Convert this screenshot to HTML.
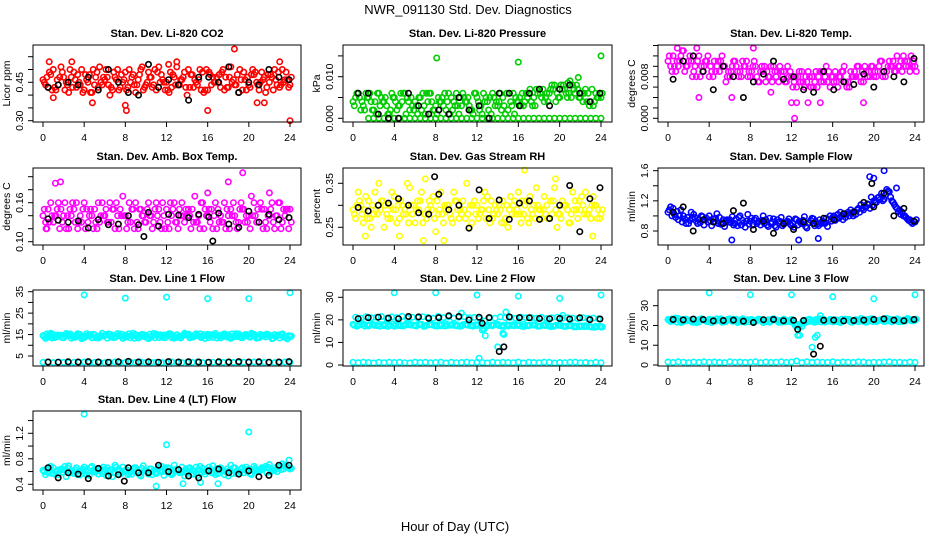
<!DOCTYPE html>
<html><head><meta charset="utf-8"><title>NWR_091130 Std. Dev. Diagnostics</title>
<style>
html,body{margin:0;padding:0;background:#fff;}
svg{display:block;font-family:"Liberation Sans",Arial,sans-serif;}
</style></head>
<body>
<svg id="chart" width="936" height="540" viewBox="0 0 936 540" xmlns="http://www.w3.org/2000/svg">
<rect x="0" y="0" width="936" height="540" fill="#fff"/>
<text x="468" y="14" text-anchor="middle" font-size="13">NWR_091130  Std. Dev. Diagnostics</text>
<text x="455" y="531" text-anchor="middle" font-size="13">Hour of Day (UTC)</text>
</svg>
<script>
// ---------- DATA ----------
const xTicks = [0,4,8,12,16,20,24];

const co2A = [0.46,0.43,0.50,0.44,0.47,0.41,0.49,0.45,0.42,0.48,0.44,0.51,0.46,0.40,0.47,0.43,0.49,0.45,0.41,0.50,0.44,0.47,0.42,0.48,0.45,0.43,0.51,0.46,0.40,0.48,0.44,0.49,0.42,0.47,0.45,0.50,0.43,0.46,0.41,0.49,0.44,0.48,0.42,0.47,0.45,0.50,0.43,0.46,0.44];
const co2B = [0.44,0.48,0.42,0.51,0.45,0.47,0.43,0.50,0.46,0.41,0.49,0.44,0.47,0.42,0.50,0.45,0.43,0.48,0.46,0.42,0.49,0.44,0.51,0.45,0.41,0.47,0.44,0.49,0.43,0.46,0.50,0.42,0.48,0.45,0.43,0.47,0.51,0.44,0.46,0.42,0.48,0.45,0.49,0.43,0.47,0.44,0.50,0.46];
const co2C = [0.45,0.49,0.43,0.47,0.42,0.50,0.46,0.44,0.48,0.41,0.47,0.45,0.50,0.43,0.46,0.48,0.42,0.47,0.44,0.51,0.45,0.43,0.49,0.46,0.42,0.48,0.44,0.47,0.50,0.43,0.46,0.41,0.49,0.45,0.48,0.42,0.47,0.44,0.50,0.46,0.43,0.49,0.45,0.41,0.48,0.46,0.44,0.49,0.47];
const co2D = [0.47,0.42,0.46,0.49,0.44,0.43,0.48,0.41,0.45,0.50,0.43,0.47,0.44,0.49,0.42,0.46,0.50,0.44,0.48,0.43,0.47,0.50,0.45,0.42,0.49,0.44,0.46,0.43,0.48,0.45,0.42,0.50,0.44,0.47,0.49,0.43,0.45,0.48,0.42,0.47,0.50,0.44,0.46,0.48,0.42,0.49,0.45,0.43];
const co2Black = [0.43,0.44,0.45,0.44,0.47,0.42,0.50,0.45,0.41,0.40,0.52,0.43,0.46,0.44,0.38,0.47,0.47,0.45,0.51,0.41,0.45,0.44,0.50,0.47,0.46];
const co2ExtraT = [0.6,1.0,2.8,4.8,8.0,8.1,12.2,13.0,16.0,18.6,20.8,21.5,23.0,24.0];
const co2ExtraV = [0.53,0.39,0.53,0.37,0.36,0.34,0.52,0.53,0.34,0.58,0.37,0.37,0.53,0.30];
const co2ExtraK = ['c','c','c','c','c','c','c','c','c','c','c','c','c','c'];

const presA = [0.004,0.006,0.003,0.005,0.002,0.006,0.004,0.001,0.005,0.003,0.006,0.002,0.004,0.005,0.001,0.006,0.003,0.004,0.002,0.005,0.006,0.003,0.004,0.002,0.005,0.001,0.004,0.006,0.003,0.005,0.002,0.006,0.004,0.003,0.006,0.005,0.007,0.004,0.006,0.008,0.005,0.007,0.009,0.006,0.005,0.007,0.004,0.006,0.005];
const presB = [0.005,0.002,0.006,0.004,0.001,0.005,0.003,0.006,0.002,0.004,0.005,0.003,0.001,0.006,0.004,0.002,0.005,0.003,0.006,0.004,0.001,0.005,0.003,0.006,0.002,0.004,0.005,0.003,0.006,0.001,0.004,0.005,0.003,0.006,0.004,0.007,0.005,0.006,0.008,0.006,0.007,0.005,0.008,0.007,0.004,0.006,0.003,0.005];
const presC = [0.003,0.005,0.002,0.006,0.004,0.003,0.005,0.002,0.004,0.006,0.001,0.005,0.003,0.002,0.006,0.004,0.001,0.005,0.004,0.002,0.003,0.006,0.005,0.001,0.004,0.006,0.002,0.005,0.004,0.003,0.006,0.001,0.005,0.004,0.007,0.003,0.006,0.005,0.007,0.004,0.008,0.006,0.005,0.008,0.006,0.004,0.007,0.005,0.006];
const presD = [0.006,0.004,0.005,0.002,0.006,0.004,0.001,0.005,0.003,0.006,0.004,0.002,0.005,0.003,0.006,0.002,0.004,0.006,0.001,0.003,0.005,0.004,0.002,0.006,0.003,0.005,0.001,0.004,0.002,0.006,0.003,0.004,0.006,0.005,0.003,0.006,0.007,0.004,0.007,0.005,0.008,0.006,0.007,0.005,0.006,0.003,0.004,0.006];
const presLow = [null,null,null,0,0,0,0,0,0,0,0,0,0,0,0,0,0,0,0,0,0,0,0,0,0,0,0,0,0,0,0,0,0,0,0,0,0,0,0,0,0,0,0,0,0,0,0,0,0];
const presBlack = [0.006,0.006,0.001,0.000,0.000,0.006,0.003,0.001,0.002,0.001,0.005,0.002,0.003,0.000,0.006,0.006,0.003,0.006,0.007,0.003,0.007,0.008,0.006,0.004,0.006];
const presExtraT = [8.1,16.0,24.0,21.8,20.8];
const presExtraV = [0.0145,0.0135,0.015,0.0098,0.0085];
const presExtraK = ['c','c','c','c','c'];

const tempA = [0.011,0.012,0.010,0.013,0.011,0.009,0.012,0.010,0.008,0.011,0.009,0.010,0.008,0.011,0.009,0.010,0.008,0.010,0.009,0.007,0.010,0.008,0.009,0.007,0.008,0.006,0.009,0.007,0.008,0.006,0.009,0.007,0.008,0.006,0.009,0.007,0.008,0.010,0.007,0.009,0.008,0.010,0.009,0.011,0.009,0.010,0.011,0.009,0.010];
const tempB = [0.010,0.009,0.012,0.010,0.011,0.008,0.010,0.011,0.009,0.010,0.012,0.008,0.010,0.009,0.011,0.008,0.010,0.007,0.009,0.008,0.010,0.007,0.009,0.008,0.007,0.009,0.006,0.008,0.007,0.009,0.008,0.006,0.009,0.008,0.007,0.009,0.008,0.007,0.009,0.010,0.008,0.011,0.009,0.010,0.012,0.009,0.011,0.010];
const tempC = [0.012,0.010,0.011,0.009,0.012,0.010,0.008,0.011,0.010,0.009,0.011,0.007,0.009,0.010,0.008,0.011,0.009,0.008,0.010,0.009,0.007,0.009,0.008,0.010,0.006,0.008,0.007,0.009,0.006,0.008,0.007,0.009,0.007,0.008,0.010,0.006,0.009,0.008,0.010,0.008,0.009,0.011,0.008,0.010,0.009,0.011,0.010,0.012,0.009];
const tempD = [0.009,0.011,0.013,0.010,0.008,0.011,0.009,0.012,0.008,0.011,0.010,0.009,0.011,0.008,0.010,0.009,0.011,0.007,0.010,0.008,0.009,0.010,0.007,0.009,0.008,0.007,0.008,0.006,0.009,0.007,0.010,0.008,0.007,0.009,0.006,0.008,0.010,0.009,0.008,0.010,0.009,0.008,0.010,0.011,0.010,0.012,0.010,0.011];
const tempBlack = [0.0075,0.011,0.012,0.009,0.0055,0.010,0.008,0.004,0.007,0.0085,0.011,0.0075,0.008,0.0055,0.005,0.009,0.0055,0.007,0.0065,0.0085,0.006,0.009,0.008,0.007,0.0115];
const tempExtraT = [2.8,3.0,8.3,12.0,12.3,12.5,13.6,14.8,19.0,6.2,10.0,0.9];
const tempExtraV = [0.0135,0.004,0.0135,0.003,0.000,0.003,0.003,0.003,0.003,0.004,0.005,0.0135];
const tempExtraK = ['c','c','c','c','c','c','c','c','c','c','c','c'];

const ambA = [0.14,0.15,0.13,0.16,0.14,0.12,0.15,0.13,0.16,0.14,0.15,0.13,0.14,0.16,0.12,0.15,0.14,0.13,0.16,0.15,0.13,0.14,0.16,0.12,0.15,0.14,0.13,0.16,0.14,0.15,0.13,0.16,0.14,0.12,0.15,0.13,0.14,0.16,0.13,0.15,0.14,0.16,0.13,0.15,0.14,0.12,0.16,0.14,0.15];
const ambB = [0.13,0.16,0.14,0.15,0.12,0.14,0.16,0.13,0.15,0.14,0.12,0.16,0.13,0.15,0.14,0.17,0.13,0.15,0.12,0.14,0.16,0.13,0.15,0.14,0.12,0.16,0.15,0.13,0.14,0.17,0.12,0.15,0.13,0.16,0.14,0.12,0.15,0.13,0.16,0.14,0.17,0.13,0.15,0.12,0.16,0.14,0.13,0.15];
const ambC = [0.15,0.13,0.14,0.12,0.16,0.15,0.13,0.14,0.12,0.15,0.13,0.14,0.15,0.13,0.16,0.14,0.12,0.15,0.13,0.14,0.15,0.12,0.14,0.16,0.13,0.15,0.12,0.14,0.15,0.13,0.14,0.12,0.15,0.14,0.13,0.16,0.12,0.14,0.15,0.13,0.12,0.14,0.16,0.13,0.15,0.14,0.12,0.15,0.13];
const ambD = [0.12,0.14,0.15,0.13,0.14,0.16,0.12,0.15,0.13,0.12,0.16,0.14,0.13,0.15,0.12,0.14,0.16,0.12,0.15,0.13,0.14,0.15,0.13,0.12,0.16,0.13,0.14,0.15,0.12,0.13,0.16,0.14,0.15,0.12,0.13,0.15,0.14,0.12,0.15,0.13,0.14,0.15,0.12,0.14,0.13,0.16,0.15,0.12];
const ambBlack = [0.135,0.133,0.130,0.132,0.121,0.134,0.126,0.127,0.140,0.126,0.145,0.124,0.142,0.141,0.137,0.142,0.138,0.144,0.127,0.122,0.147,0.130,0.142,0.134,0.137];
const ambExtraT = [1.2,1.7,16.0,18.0,19.4,22.0,0.3,9.8,16.5];
const ambExtraV = [0.190,0.192,0.175,0.192,0.206,0.175,0.12,0.108,0.101];
const ambExtraK = ['c','c','c','c','c','c','c','k','k'];

const rhA = [0.29,0.33,0.26,0.31,0.28,0.35,0.25,0.30,0.32,0.27,0.29,0.34,0.26,0.31,0.28,0.30,0.24,0.33,0.29,0.27,0.31,0.28,0.35,0.26,0.30,0.29,0.32,0.27,0.28,0.31,0.25,0.30,0.33,0.28,0.26,0.30,0.29,0.32,0.27,0.34,0.28,0.30,0.26,0.31,0.29,0.33,0.27,0.30,0.28];
const rhB = [0.27,0.30,0.32,0.25,0.29,0.31,0.28,0.33,0.26,0.30,0.35,0.28,0.31,0.26,0.29,0.32,0.28,0.26,0.30,0.33,0.27,0.29,0.25,0.31,0.28,0.33,0.26,0.30,0.29,0.27,0.32,0.28,0.26,0.31,0.29,0.34,0.27,0.30,0.28,0.25,0.31,0.29,0.33,0.27,0.30,0.28,0.32,0.29];
const rhC = [0.28,0.31,0.29,0.27,0.33,0.29,0.30,0.27,0.29,0.31,0.28,0.30,0.29,0.33,0.27,0.29,0.31,0.28,0.30,0.26,0.29,0.31,0.28,0.30,0.27,0.31,0.29,0.28,0.30,0.26,0.29,0.31,0.28,0.30,0.32,0.27,0.29,0.28,0.31,0.29,0.27,0.30,0.28,0.29,0.32,0.28,0.30,0.27,0.29];
const rhD = [0.30,0.28,0.27,0.30,0.28,0.31,0.27,0.29,0.30,0.28,0.26,0.30,0.29,0.28,0.31,0.27,0.29,0.30,0.28,0.31,0.29,0.27,0.30,0.28,0.29,0.27,0.31,0.29,0.26,0.30,0.28,0.29,0.31,0.27,0.28,0.30,0.29,0.27,0.31,0.28,0.30,0.26,0.29,0.31,0.28,0.29,0.30,0.27];
const rhBlack = [0.295,0.287,0.300,0.305,0.315,0.300,0.283,0.280,0.325,0.290,0.300,0.248,0.335,0.270,0.312,0.268,0.305,0.310,0.268,0.270,0.300,0.345,0.240,0.315,0.340];
const rhExtraT = [6.8,7.0,8.8,16.6,19.6,1.2,4.5,23.2,7.9];
const rhExtraV = [0.22,0.36,0.22,0.38,0.36,0.23,0.23,0.23,0.365];
const rhExtraK = ['c','c','c','c','c','c','c','c','k'];

const flowA = [1.05,1.10,0.95,1.00,0.90,1.02,0.95,0.88,1.00,0.92,0.98,0.86,0.95,0.90,1.00,0.85,0.93,0.97,0.88,0.95,0.90,0.85,0.98,0.92,0.87,0.95,0.90,0.84,0.97,0.89,0.93,0.86,0.98,1.02,0.95,1.05,1.00,1.10,1.08,1.15,1.20,1.25,1.22,1.32,1.15,1.08,1.00,0.95,0.92];
const flowB = [1.12,0.98,1.08,0.90,1.05,0.93,1.00,0.97,0.87,1.03,0.90,0.95,0.99,0.87,0.94,1.02,0.88,0.92,1.00,0.86,0.96,0.91,0.89,0.96,0.85,0.93,0.99,0.91,0.87,0.95,0.90,1.00,0.94,1.05,0.98,1.08,1.02,1.15,1.12,1.25,1.18,1.30,1.35,1.20,1.10,1.05,0.96,0.90];
const flowC = [1.08,1.02,1.00,0.96,0.94,0.98,0.91,0.95,0.93,0.97,0.89,0.94,0.91,0.96,0.88,0.93,0.97,0.90,0.94,0.88,0.92,0.95,0.87,0.93,0.90,0.88,0.94,0.91,0.96,0.87,0.92,0.95,1.00,0.97,1.03,1.00,1.06,1.05,1.12,1.10,1.18,1.22,1.28,1.25,1.12,1.02,0.98,0.92,0.95];
const flowD = [1.00,1.06,0.92,0.98,0.97,0.90,0.99,0.92,0.96,0.90,0.95,0.92,0.88,0.98,0.91,0.89,0.95,0.93,0.90,0.97,0.87,0.93,0.91,0.89,0.96,0.91,0.86,0.94,0.92,0.90,0.97,0.93,0.96,1.00,1.02,1.04,1.08,1.10,1.16,1.14,1.24,1.20,1.33,1.18,1.06,1.00,0.94,0.93];
const flowBlack = [1.05,1.12,0.80,0.95,0.92,0.90,1.07,1.17,0.82,0.93,0.77,0.90,0.82,0.92,0.90,0.97,0.95,1.03,1.05,1.18,1.12,1.30,1.00,1.10,0.93];
const flowExtraT = [19.6,20.0,21.0,14.6,6.2,12.7,22.2,19.8];
const flowExtraV = [1.52,1.50,1.60,0.70,0.68,0.68,1.37,1.43];
const flowExtraK = ['c','c','c','c','c','c','c','k'];

const l1A = [14.5,13.8,15.0,14.2,13.5,14.8,14.0,15.2,13.6,14.4,14.9,13.9,14.6,15.1,13.7,14.3,14.8,13.5,15.0,14.2,14.6,13.8,15.2,14.1,14.7,13.6,14.9,14.3,15.0,13.8,14.5,14.1,15.1,13.7,14.6,14.2,14.9,13.9,15.3,14.4,14.0,15.1,13.6,14.8,14.3,15.0,13.4,14.2,14.0];
const l1B = [13.2,15.6,13.9,14.7,15.5,13.3,14.5,13.1,15.4,13.5,14.1,15.6,13.3,14.7,15.5,13.2,14.4,15.6,13.4,14.9,13.1,15.5,13.6,14.8,15.4,13.3,14.2,15.6,13.5,14.9,15.3,13.2,14.5,15.5,13.4,14.7,13.2,15.4,13.6,14.9,15.6,13.3,14.5,15.2,13.1,14.6,15.3,13.0];
const l1C = [14.0,15.1,13.6,14.6,14.3,15.3,13.7,14.8,14.1,15.0,13.5,14.5,14.9,13.8,14.2,15.2,13.9,14.6,14.0,15.1,13.6,14.4,14.8,13.7,15.0,14.3,13.8,14.7,15.2,13.9,14.4,15.0,13.6,14.8,14.1,15.3,13.7,14.5,14.2,15.0,13.8,14.6,15.1,13.9,14.4,14.0,15.0,13.6,14.3];
const l1D = [15.3,13.4,14.8,13.6,14.9,14.0,15.4,13.5,14.6,15.1,13.4,14.3,15.3,13.6,14.8,14.1,15.4,13.3,14.7,14.0,15.2,13.5,14.9,13.6,15.3,14.0,13.4,14.9,14.1,15.3,13.6,14.6,15.0,13.4,14.8,13.8,15.3,14.1,13.5,14.7,15.1,13.6,14.3,15.0,13.3,14.8,13.8,14.5];
const l1Low = [2.0,2.1,1.9,2.2,2.0,1.9,2.1,2.0,2.2,1.9,2.0,2.1,1.9,2.0,2.2,2.0,1.9,2.1,2.0,2.2,1.9,2.0,2.1,1.9,2.0,2.2,2.0,1.9,2.1,2.0,2.2,1.9,2.0,2.1,1.9,2.0,2.2,2.0,1.9,2.1,2.0,2.2,1.9,2.0,2.1,1.9,2.0,2.2,2.0];
const l1Black = [2.2,2.1,2.3,2.2,2.4,2.2,2.1,2.3,2.5,2.2,2.3,2.1,2.4,2.2,2.3,2.2,2.1,2.3,2.2,2.4,2.2,2.3,2.1,2.2,2.4];
const l1ExtraT = [4,8,12,16,20,24];
const l1ExtraV = [33.5,32.0,32.5,31.8,31.8,34.5];
const l1ExtraK = ['c','c','c','c','c','c'];

const l2A = [18.0,17.5,18.2,17.3,17.8,18.1,17.4,17.9,17.2,18.0,17.6,18.3,17.5,17.9,17.3,18.1,17.7,17.4,18.2,17.6,17.9,17.3,18.0,17.7,17.5,15.5,17.8,17.4,18.0,17.6,17.3,17.9,17.5,18.1,17.4,17.7,17.2,17.9,17.5,17.3,17.8,17.1,17.6,17.3,17.0,17.4,16.9,17.2,16.8];
const l2B = [21.2,20.8,21.4,20.9,21.1,21.5,20.7,21.3,21.0,21.6,20.8,21.2,20.9,21.4,21.1,20.7,21.5,21.0,21.3,20.8,21.2,21.4,20.9,21.1,20.6,19.5,21.0,20.8,21.3,20.9,21.1,20.7,21.2,20.9,21.0,20.8,21.1,20.6,20.9,21.2,20.7,21.0,20.8,20.5,20.9,20.6,20.8,20.5];
const l2C = [17.6,18.1,17.3,17.9,17.5,17.2,18.0,17.6,17.8,17.4,18.1,17.7,17.3,18.0,17.6,17.8,17.2,17.9,17.5,18.1,17.3,17.8,17.6,17.2,17.9,16.0,17.4,17.8,17.5,17.1,17.7,17.4,17.9,17.2,17.6,17.8,17.3,17.5,17.0,17.6,17.4,17.2,17.5,16.9,17.3,17.1,16.8,17.0,16.9];
const l2D = [17.2,17.9,17.6,18.1,17.4,17.8,17.1,18.2,17.5,17.3,17.9,17.6,18.2,17.1,17.8,17.4,18.0,17.3,17.7,17.5,17.2,18.0,17.4,17.8,17.3,17.0,17.6,18.1,17.2,17.8,17.5,17.7,17.1,17.5,17.8,17.2,17.6,17.4,17.1,17.7,17.2,17.4,16.9,17.3,17.0,17.2,16.7,17.1];
const l2Low = [1.2,1.0,1.3,1.1,0.9,1.2,1.0,1.3,1.1,1.2,1.0,0.9,1.3,1.1,1.2,1.0,1.1,1.3,0.9,1.2,1.0,1.1,1.3,1.0,1.2,1.1,0.9,1.3,1.0,1.2,1.1,1.0,1.3,0.9,1.2,1.1,1.0,1.3,1.2,0.9,1.1,1.0,1.2,1.3,1.0,1.1,0.9,1.2,1.0];
const l2Black = [20.5,21.0,21.2,20.8,20.5,21.5,21.3,20.7,21.0,21.8,21.5,20.0,21.2,21.0,6.0,21.3,21.0,20.9,20.6,20.5,20.6,20.4,20.9,20.1,20.4];
const l2ExtraT = [4,8,12,16,20,24,12.2,12.7,12.8,14.0,14.5,14.6,14.8,10.5,20.3,14.6,12.5];
const l2ExtraV = [32,32,31,30.5,29.5,31,3,16,13,8,14,13.5,23.5,23,22,8,18.5];
const l2ExtraK = ['c','c','c','c','c','c','c','c','c','c','c','c','c','c','c','k','k'];

const l3A = [23.0,22.3,23.5,22.0,22.8,23.2,21.8,22.6,23.1,22.2,22.9,21.9,23.3,22.4,22.7,21.6,22.9,22.2,23.0,22.5,22.1,22.8,21.7,22.4,23.0,20.5,19.5,21.8,22.6,22.0,22.9,22.3,21.8,22.7,22.2,23.0,22.4,21.9,22.8,22.3,23.1,22.6,22.0,23.2,22.5,22.8,22.1,23.0,22.6];
const l3B = [22.0,23.8,21.5,23.2,22.1,21.4,23.4,22.0,21.5,23.3,21.6,23.0,22.1,21.5,23.4,22.9,21.8,23.2,21.5,22.9,23.4,21.6,23.2,22.0,21.8,19.0,21.2,23.1,21.6,23.3,21.7,23.0,22.9,21.5,23.2,21.8,22.9,23.5,21.6,23.4,21.9,22.7,23.6,21.8,23.3,22.0,23.5,22.3];
const l3C = [22.5,23.2,22.1,23.0,22.6,21.9,23.1,22.4,22.8,22.2,23.4,22.0,22.7,23.1,21.8,22.5,23.0,22.3,22.8,21.9,23.2,22.4,22.7,22.1,21.5,20.0,22.4,22.9,21.9,22.6,23.1,22.2,22.8,21.8,22.5,23.0,22.3,22.7,21.9,23.1,22.4,22.8,22.2,23.0,22.6,21.9,22.8,22.4,23.1];
const l3D = [23.3,21.7,22.9,22.4,21.6,22.7,23.2,21.9,22.9,22.6,21.7,22.8,23.2,22.0,22.8,21.9,22.4,23.1,22.2,21.7,22.9,22.5,21.8,22.6,19.8,20.8,22.7,22.1,23.0,21.8,22.4,22.9,22.0,23.1,22.6,21.7,22.8,22.1,23.0,22.0,22.6,23.1,22.3,22.9,21.9,22.7,23.0,22.5];
const l3Low = [1.5,1.3,1.6,1.4,1.2,1.5,1.3,1.6,1.4,1.5,1.3,1.2,1.6,1.4,1.5,1.3,1.4,1.6,1.2,1.5,1.3,1.4,1.6,1.3,1.5,2.0,1.2,1.6,1.3,1.5,1.4,1.3,1.6,1.2,1.5,1.4,1.3,1.6,1.5,1.2,1.4,1.3,1.5,1.6,1.3,1.4,1.2,1.5,1.3];
const l3Black = [23.0,22.8,23.2,23.0,22.3,22.5,22.7,22.2,21.5,22.9,23.0,22.4,22.6,22.5,5.5,22.6,22.7,22.3,22.5,22.7,23.0,23.3,22.7,22.4,23.0];
const l3ExtraT = [4,8,12,16,20,24,12.6,12.8,14.0,14.3,14.5,14.8,14.6,12.6,14.8];
const l3ExtraV = [36.5,35.5,35.5,34.5,33.5,35.5,15,15,9,14,15,25,23,18,9.5];
const l3ExtraK = ['c','c','c','c','c','c','c','c','c','c','c','c','c','k','k'];

const l4A = [0.62,0.58,0.66,0.55,0.63,0.69,0.57,0.61,0.67,0.54,0.60,0.65,0.58,0.63,0.70,0.56,0.62,0.59,0.66,0.53,0.61,0.64,0.57,0.68,0.60,0.55,0.63,0.67,0.58,0.62,0.54,0.65,0.60,0.69,0.57,0.62,0.53,0.66,0.61,0.58,0.64,0.68,0.60,0.65,0.71,0.62,0.67,0.70,0.64];
const l4B = [0.55,0.68,0.60,0.64,0.52,0.59,0.66,0.62,0.55,0.68,0.63,0.57,0.66,0.52,0.61,0.67,0.55,0.64,0.60,0.69,0.56,0.62,0.67,0.54,0.65,0.70,0.58,0.53,0.66,0.61,0.68,0.56,0.63,0.55,0.66,0.60,0.70,0.57,0.64,0.67,0.55,0.61,0.66,0.58,0.63,0.60,0.72,0.66];
const l4C = [0.60,0.65,0.56,0.62,0.68,0.58,0.63,0.55,0.61,0.66,0.59,0.64,0.54,0.62,0.67,0.58,0.63,0.56,0.61,0.65,0.59,0.55,0.64,0.60,0.66,0.57,0.62,0.59,0.65,0.56,0.63,0.60,0.67,0.58,0.64,0.55,0.61,0.66,0.59,0.63,0.57,0.65,0.62,0.68,0.60,0.66,0.63,0.69,0.65];
const l4D = [0.64,0.57,0.62,0.59,0.66,0.61,0.55,0.64,0.59,0.62,0.56,0.67,0.60,0.58,0.63,0.61,0.57,0.66,0.55,0.62,0.64,0.58,0.61,0.66,0.57,0.63,0.60,0.64,0.56,0.67,0.59,0.62,0.58,0.65,0.61,0.64,0.57,0.62,0.66,0.59,0.63,0.60,0.65,0.67,0.62,0.68,0.64,0.66];
const l4Black = [0.66,0.50,0.58,0.56,0.49,0.65,0.53,0.55,0.66,0.58,0.58,0.70,0.60,0.63,0.53,0.50,0.61,0.64,0.58,0.56,0.61,0.52,0.54,0.70,0.70];
const l4ExtraT = [4,20,12,11,13.6,17,15.3,23.9,7.9];
const l4ExtraV = [1.5,1.22,1.02,0.37,0.41,0.41,0.43,0.78,0.45];
const l4ExtraK = ['c','c','c','c','c','c','c','c','k'];

// ---------- LAYOUT ----------
const cols = [{x0:43,x24:290,L:33,R:301},{x0:353,x24:601,L:343,R:612},{x0:668,x24:915,L:658,R:924}];
const rows = [{T:45,B:122},{T:168,B:245},{T:290,B:366},{T:411,B:490}];

const panels = [
 {name:'co2',title:'Stan. Dev. Li-820 CO2',ylab:'Licor ppm',c:0,r:0,col:'#ff0000',ref:[0.30,120.7,0.45,82.3],ticks:[0.30,0.35,0.40,0.45,0.50,0.55],labels:['0.30','0.45'],S:[co2A,co2B,co2C,co2D],Low:null,K:co2Black,ET:co2ExtraT,EV:co2ExtraV,EK:co2ExtraK},
 {name:'pressure',title:'Stan. Dev. Li-820 Pressure',ylab:'kPa',c:1,r:0,col:'#00cc00',ref:[0,118.3,0.010,76.7],ticks:[0,0.005,0.010,0.015],labels:['0.000','0.010'],S:[presA,presB,presC,presD],Low:presLow,K:presBlack,ET:presExtraT,EV:presExtraV,EK:presExtraK},
 {name:'temp',title:'Stan. Dev. Li-820 Temp.',ylab:'degrees C',c:2,r:0,col:'#ff00ff',ref:[0,118.3,0.008,76.7],ticks:[0,0.002,0.004,0.006,0.008,0.010,0.012,0.014],labels:['0.000','0.008'],S:[tempA,tempB,tempC,tempD],Low:null,K:tempBlack,ET:tempExtraT,EV:tempExtraV,EK:tempExtraK},
 {name:'amb-box-temp',title:'Stan. Dev. Amb. Box Temp.',ylab:'degrees C',c:0,r:1,col:'#ff00ff',ref:[0.10,241.7,0.16,202.7],ticks:[0.10,0.12,0.14,0.16,0.18,0.20],labels:['0.10','0.16'],S:[ambA,ambB,ambC,ambD],Low:null,K:ambBlack,ET:ambExtraT,EV:ambExtraV,EK:ambExtraK},
 {name:'gas-rh',title:'Stan. Dev. Gas Stream RH',ylab:'percent',c:1,r:1,col:'#ffff00',ref:[0.25,227.3,0.35,183.3],ticks:[0.25,0.30,0.35],labels:['0.25','0.35'],S:[rhA,rhB,rhC,rhD],Low:null,K:rhBlack,ET:rhExtraT,EV:rhExtraV,EK:rhExtraK},
 {name:'sample-flow',title:'Stan. Dev. Sample Flow',ylab:'ml/min',c:2,r:1,col:'#0000ff',ref:[0.8,231,1.6,170.7],ticks:[0.8,1.0,1.2,1.4,1.6],labels:['0.8','1.2','1.6'],S:[flowA,flowB,flowC,flowD],Low:null,K:flowBlack,ET:flowExtraT,EV:flowExtraV,EK:flowExtraK},
 {name:'line1-flow',title:'Stan. Dev. Line 1 Flow',ylab:'ml/min',c:0,r:2,col:'#00ffff',ref:[5,356,35,291.7],ticks:[5,10,15,20,25,30,35],labels:['5','15','25','35'],S:[l1A,l1B,l1C,l1D],Low:l1Low,K:l1Black,ET:l1ExtraT,EV:l1ExtraV,EK:l1ExtraK},
 {name:'line2-flow',title:'Stan. Dev. Line 2 Flow',ylab:'ml/min',c:1,r:2,col:'#00ffff',ref:[0,365,30,297.3],ticks:[0,10,20,30],labels:['0','10','20','30'],S:[l2A,l2B,l2C,l2D],Low:l2Low,K:l2Black,ET:l2ExtraT,EV:l2ExtraV,EK:l2ExtraK},
 {name:'line3-flow',title:'Stan. Dev. Line 3 Flow',ylab:'ml/min',c:2,r:2,col:'#00ffff',ref:[0,365,30,305.7],ticks:[0,10,20,30],labels:['0','10','20','30'],S:[l3A,l3B,l3C,l3D],Low:l3Low,K:l3Black,ET:l3ExtraT,EV:l3ExtraV,EK:l3ExtraK},
 {name:'line4-flow',title:'Stan. Dev. Line 4 (LT) Flow',ylab:'ml/min',c:0,r:3,col:'#00ffff',ref:[0.4,484.3,1.2,433.3],ticks:[0.4,0.6,0.8,1.0,1.2,1.4],labels:['0.4','0.8','1.2'],S:[l4A,l4B,l4C,l4D],Low:null,K:l4Black,ET:l4ExtraT,EV:l4ExtraV,EK:l4ExtraK}
];
const seriesOffsets = [0,0.25,0.125,0.375];

const NS='http://www.w3.org/2000/svg';
const svg=document.getElementById('chart');
function mk(tag,attrs,parent){const e=document.createElementNS(NS,tag);for(const k in attrs)e.setAttribute(k,attrs[k]);(parent||svg).appendChild(e);return e;}

panels.forEach(p=>{
  const C=cols[p.c], Rw=rows[p.r];
  const g=mk('g',{});
  
  
  const xs=t=>C.x0+(C.x24-C.x0)*t/24;
  const ys=v=>p.ref[1]+(v-p.ref[0])*(p.ref[3]-p.ref[1])/(p.ref[2]-p.ref[0]);
  const tt=mk('text',{x:(C.L+C.R)/2,y:Rw.T-8,'text-anchor':'middle','font-size':11,'font-weight':'bold'},g);
  tt.textContent=p.title;
  
  
  const pts=mk('g',{fill:'none','stroke-width':1.6},g);
  
  
  function dot(t,v,color,nm){
    if(v===null||v===undefined)return;
    const y=ys(v); if(y<Rw.T-2||y>Rw.B+2)return;
    const c=mk('circle',{cx:xs(t).toFixed(1),cy:y.toFixed(1),r:2.7,stroke:color},pts);
    
    
  }
  if(p.Low) p.Low.forEach((v,i)=>dot(i*0.5,v,p.col,'point-low'));
  p.S.forEach((arr,si)=>arr.forEach((v,i)=>dot(seriesOffsets[si]+i*0.5,v,p.col,'point')));
  p.ET.forEach((t,i)=>{ if(p.EK[i]==='c') dot(t,p.EV[i],p.col,'point-outlier'); });
  p.K.forEach((v,i)=>dot(0.5+i*0.975,v,'#000','point-black'));
  p.ET.forEach((t,i)=>{ if(p.EK[i]==='k') dot(t,p.EV[i],'#000','point-black'); });
  const bx=mk('rect',{x:C.L,y:Rw.T,width:C.R-C.L,height:Rw.B-Rw.T,fill:'none',stroke:'#000','stroke-width':1},g);
  
  
  const xa=mk('g',{},g);
  
  
  mk('line',{x1:xs(0),x2:xs(24),y1:Rw.B,y2:Rw.B,stroke:'#000'},xa);
  xTicks.forEach(t=>{
    mk('line',{x1:xs(t),x2:xs(t),y1:Rw.B,y2:Rw.B+5,stroke:'#000'},xa);
    const l=mk('text',{x:xs(t),y:Rw.B+19,'text-anchor':'middle','font-size':10.5},xa);
    l.textContent=t;
    
    
  });
  const ya=mk('g',{},g);
  
  
  const yv=p.ticks.map(ys);
  mk('line',{x1:C.L,x2:C.L,y1:Math.min(...yv),y2:Math.max(...yv),stroke:'#000'},ya);
  p.ticks.forEach(v=>{ const y=ys(v); mk('line',{x1:C.L-5,x2:C.L,y1:y,y2:y,stroke:'#000'},ya); });
  p.labels.forEach(s=>{
    const y=ys(parseFloat(s)), x=C.L-10;
    const l=mk('text',{x:x,y:y,'text-anchor':'middle','font-size':10.5,transform:`rotate(-90 ${x} ${y})`},ya);
    l.textContent=s;
    
    
  });
  const yt=mk('text',{x:C.L-23,y:(Rw.T+Rw.B)/2,'text-anchor':'middle','font-size':10.5,transform:`rotate(-90 ${C.L-23} ${(Rw.T+Rw.B)/2})`},ya);
  yt.textContent=p.ylab;
  
  
});
</script>
</body></html>
